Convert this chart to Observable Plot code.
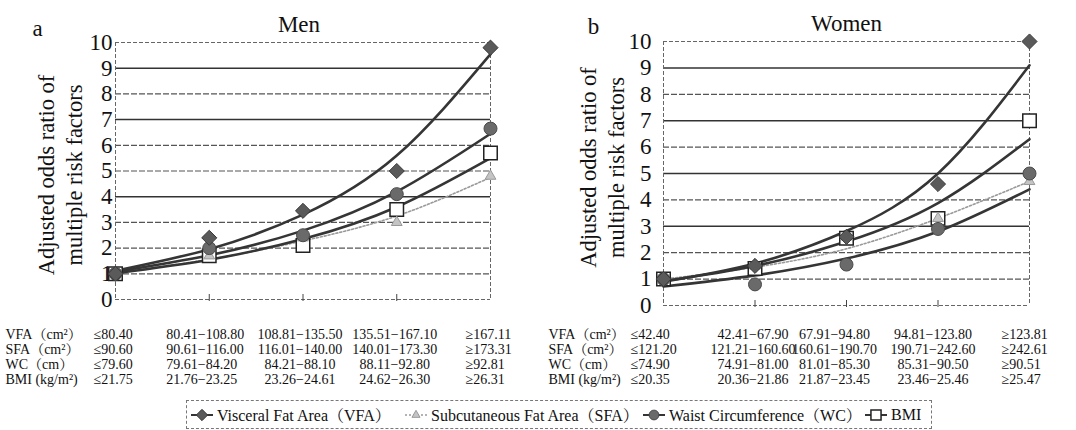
<!DOCTYPE html>
<html>
<head>
<meta charset="utf-8">
<script src="https://cdn.jsdelivr.net/npm/d3@7"></script>
<script src="https://cdn.jsdelivr.net/npm/@observablehq/plot@0.6"></script>
<style>
  html, body { margin: 0; padding: 0; background: #fff; }
  #wrap { position: relative; width: 1076px; height: 430px; background: #fff; font-family: "Liberation Serif", "Noto Serif CJK JP", "Times New Roman", serif; color: #111; overflow: hidden; }
  #men { position: absolute; left: 0; top: 0; }
  #women { position: absolute; left: 538px; top: 0; }
  #legend { position: absolute; left: 186px; top: 400px; width: 746px; height: 29px; border: 1px dashed #777; box-sizing: border-box; font-size: 16px; white-space: nowrap; }
  #legend .item { position: absolute; top: 0; height: 27px; display: flex; align-items: center; }
  #legend svg { display: block; margin-right: 3px; }
</style>
</head>
<body>
<div id="wrap">
  <div id="men"></div>
  <div id="women"></div>
  <div id="legend"></div>
</div>
<script>
// ---------------- data ----------------
const categories = [1, 2, 3, 4, 5]; // quintiles
const yTicks = [0, 1, 2, 3, 4, 5, 6, 7, 8, 9, 10];
const seriesKeys = ["VFA", "SFA", "WC", "BMI"];
const seriesNames = ["Visceral Fat Area（VFA）", "Subcutaneous Fat Area（SFA）", "Waist Circumference（WC）", "BMI"];
const rowLabels = ["VFA（cm²）", "SFA（cm²）", "WC（cm）", "BMI (kg/m²)"];

// Men: adjusted odds ratios
const menVFA = [1.0, 2.4, 3.45, 5.0, 9.8];
const menSFA = [1.0, 1.7, 2.4, 3.0, 4.8];
const menWC  = [1.0, 2.0, 2.5, 4.1, 6.65];
const menBMI = [1.0, 1.7, 2.1, 3.5, 5.7];
// Men: trend-line heights read at each quintile
const menVFAtrend = [1.12, 1.96, 3.3, 5.6, 9.55];
const menSFAtrend = [1.06, 1.56, 2.28, 3.25, 4.75];
const menWCtrend  = [1.08, 1.72, 2.68, 4.2, 6.45];
const menBMItrend = [1.02, 1.55, 2.35, 3.6, 5.5];

// Women: adjusted odds ratios
const womenVFA = [1.0, 1.5, 2.6, 4.6, 10.0];
const womenSFA = [1.0, 1.5, 2.6, 3.3, 4.7];
const womenWC  = [1.0, 0.8, 1.55, 2.9, 5.0];
const womenBMI = [1.0, 1.4, 2.55, 3.3, 7.0];
// Women: trend-line heights read at each quintile
const womenVFAtrend = [0.9, 1.59, 2.82, 5.0, 9.1];
const womenSFAtrend = [1.0, 1.45, 2.15, 3.3, 4.7];
const womenWCtrend  = [0.72, 1.14, 1.78, 2.8, 4.4];
const womenBMItrend = [0.93, 1.5, 2.42, 3.88, 6.3];

// Quintile ranges (table under each panel)
const menVFArange = ["≤80.40", "80.41−108.80", "108.81−135.50", "135.51−167.10", "≥167.11"];
const menSFArange = ["≤90.60", "90.61−116.00", "116.01−140.00", "140.01−173.30", "≥173.31"];
const menWCrange  = ["≤79.60", "79.61−84.20", "84.21−88.10", "88.11−92.80", "≥92.81"];
const menBMIrange = ["≤21.75", "21.76−23.25", "23.26−24.61", "24.62−26.30", "≥26.31"];
const womenVFArange = ["≤42.40", "42.41−67.90", "67.91−94.80", "94.81−123.80", "≥123.81"];
const womenSFArange = ["≤121.20", "121.21−160.60", "160.61−190.70", "190.71−242.60", "≥242.61"];
const womenWCrange  = ["≤74.90", "74.91−81.00", "81.01−85.30", "85.31−90.50", "≥90.51"];
const womenBMIrange = ["≤20.35", "20.36−21.86", "21.87−23.45", "23.46−25.46", "≥25.47"];

// ---------------- styles ----------------
const FONT = "'Liberation Serif', 'Noto Serif CJK JP', 'Times New Roman', serif";
const lineStyle = {
  VFA: {stroke: "#353535", strokeWidth: 2.6},
  SFA: {stroke: "#9a9a9a", strokeWidth: 1.6, strokeDasharray: "2,2"},
  WC:  {stroke: "#353535", strokeWidth: 2.6},
  BMI: {stroke: "#353535", strokeWidth: 2.6}
};
const dotStyle = {
  BMI: {symbol: "square", r: 7.6, fill: "#fff", stroke: "#222", strokeWidth: 1.5},
  SFA: {symbol: "triangle", r: 4, fill: "#c4c4c4", stroke: "#999", strokeWidth: 1},
  WC:  {symbol: "circle", r: 6.5, fill: "#6a6a6a", stroke: "#4a4a4a", strokeWidth: 1},
  VFA: {symbol: "diamond2", r: 6.8, fill: "#5a5a5a", stroke: "#3a3a3a", strokeWidth: 1}
};
// legend item left edges (px, inside the legend box)
const legendLeft = [3, 217, 455, 677];

const panels = [
  {
    el: "#men", title: "Men", letter: "a",
    values: {VFA: menVFA, SFA: menSFA, WC: menWC, BMI: menBMI},
    trends: {VFA: menVFAtrend, SFA: menSFAtrend, WC: menWCtrend, BMI: menBMItrend},
    ranges: [menVFArange, menSFArange, menWCrange, menBMIrange],
    ml: 115, mr: 48, mt: 42, mb: 101,
    tickPad: 3, titleDx: -4, titleDy: -18, letterDx: -78, letterDy: -14,
    ylabDx: -56, ylabDy: 4, rowLabelDx: -110,
    rowDy: [35, 50, 65, 80],
    cols: [{a: "start", dx: -22}, {a: "start", dx: -43}, {a: "middle", dx: -3}, {a: "middle", dx: -2}, {a: "start", dx: -25}],
    solidGrid: [9, 7, 4], dashedGrid: [1, 2, 3, 5, 6, 8]
  },
  {
    el: "#women", title: "Women", letter: "b",
    values: {VFA: womenVFA, SFA: womenSFA, WC: womenWC, BMI: womenBMI},
    trends: {VFA: womenVFAtrend, SFA: womenSFAtrend, WC: womenWCtrend, BMI: womenBMItrend},
    ranges: [womenVFArange, womenSFArange, womenWCrange, womenBMIrange],
    ml: 125, mr: 47, mt: 41, mb: 95,
    tickPad: 12, titleDx: 0, titleDy: -18, letterDx: -70, letterDy: -15,
    ylabDx: -62, ylabDy: -6, rowLabelDx: -115,
    rowDy: [29, 44, 59, 74],
    cols: [{a: "start", dx: -33}, {a: "middle", dx: -2}, {a: "middle", dx: -12}, {a: "middle", dx: -5}, {a: "start", dx: -28}],
    solidGrid: [9, 7, 5, 3], dashedGrid: [1, 2, 4, 6, 8]
  }
];

function buildPanel(p) {
  const marks = [];
  // grid
  marks.push(Plot.ruleY(p.dashedGrid, {stroke: "#555", strokeWidth: 1.2, strokeDasharray: "6,2"}));
  marks.push(Plot.ruleY(p.solidGrid, {stroke: "#333", strokeWidth: 1.5}));
  // plot-area border (dashed)
  marks.push(Plot.ruleY([0, 10], {stroke: "#666", strokeWidth: 1, strokeDasharray: "4,2"}));
  marks.push(Plot.ruleX([categories[0], categories[categories.length - 1]], {stroke: "#666", strokeWidth: 1, strokeDasharray: "4,2"}));
  // axes
  marks.push(Plot.axisY({ticks: yTicks, tickSize: 0, tickPadding: p.tickPad, fontSize: 23, fontFamily: FONT, fill: "#111", label: null}));
  marks.push(Plot.axisX({ticks: categories.slice(1, 4), tickSize: 7, dy: -5, tickFormat: () => "", stroke: "#444", label: null}));
  // trend lines
  for (const k of ["SFA", "BMI", "WC", "VFA"]) {
    const data = categories.map((c, i) => ({x: c, y: p.trends[k][i]}));
    marks.push(Plot.line(data, {x: "x", y: "y", curve: "natural", ...lineStyle[k]}));
  }
  // points
  for (const k of ["BMI", "SFA", "WC", "VFA"]) {
    const data = categories.map((c, i) => ({x: c, y: p.values[k][i]}));
    marks.push(Plot.dot(data, {x: "x", y: "y", ...dotStyle[k]}));
  }
  // titles
  marks.push(Plot.text([p.title], {frameAnchor: "top", lineAnchor: "middle", dx: p.titleDx, dy: p.titleDy, fontSize: 23, fontFamily: FONT, fill: "#111"}));
  marks.push(Plot.text([p.letter], {frameAnchor: "top-left", textAnchor: "middle", lineAnchor: "middle", dx: p.letterDx, dy: p.letterDy, fontSize: 23, fontFamily: FONT, fill: "#111"}));
  // y label
  marks.push(Plot.text(["Adjusted odds ratio of\nmultiple risk factors"], {
    frameAnchor: "left", rotate: -90, textAnchor: "middle", lineAnchor: "middle", lineHeight: 1.24,
    dx: p.ylabDx, dy: p.ylabDy, fontSize: 22.5, fontFamily: FONT, fill: "#111"
  }));
  // table under the plot
  p.ranges.forEach((row, r) => {
    marks.push(Plot.text([rowLabels[r]], {x: () => categories[0], y: () => 0, text: d => d, textAnchor: "start", lineAnchor: "middle",
      dx: p.rowLabelDx, dy: p.rowDy[r], fontSize: 14, fontFamily: FONT, fill: "#111"}));
    row.forEach((t, c) => {
      marks.push(Plot.text([t], {x: () => categories[c], y: () => 0, text: d => d, textAnchor: p.cols[c].a, lineAnchor: "middle",
        dx: p.cols[c].dx, dy: p.rowDy[r], fontSize: 14, fontFamily: FONT, fill: "#111"}));
    });
  });

  return Plot.plot({
    width: 538, height: 400,
    marginLeft: p.ml, marginRight: p.mr, marginTop: p.mt, marginBottom: p.mb,
    x: {domain: [categories[0], categories[categories.length - 1]], axis: null},
    y: {domain: [0, 10], axis: null},
    style: {fontFamily: FONT, background: "transparent", overflow: "visible"},
    marks
  });
}

for (const p of panels) document.querySelector(p.el).append(buildPanel(p));

// ---------------- legend ----------------
const legend = d3.select("#legend");
const d3Sym = {square: d3.symbolSquare, triangle: d3.symbolTriangle, circle: d3.symbolCircle, diamond2: d3.symbolDiamond2};
seriesKeys.forEach((k, i) => {
  const item = legend.append("div").attr("class", "item").style("left", legendLeft[i] + "px");
  const svg = item.append("svg").attr("width", 24).attr("height", 16);
  const ls = lineStyle[k];
  svg.append("line").attr("x1", 1).attr("x2", 23).attr("y1", 8).attr("y2", 8)
    .attr("stroke", ls.stroke).attr("stroke-width", Math.min(ls.strokeWidth, 2))
    .attr("stroke-dasharray", ls.strokeDasharray || null);
  const ds = dotStyle[k];
  const scale = 0.75;
  svg.append("path").attr("transform", "translate(12,8)")
    .attr("d", d3.symbol(d3Sym[ds.symbol], Math.PI * (ds.r * scale) ** 2)())
    .attr("fill", ds.fill).attr("stroke", ds.stroke).attr("stroke-width", ds.strokeWidth);
  item.append("span").text(seriesNames[i]);
});
</script>
</body>
</html>
